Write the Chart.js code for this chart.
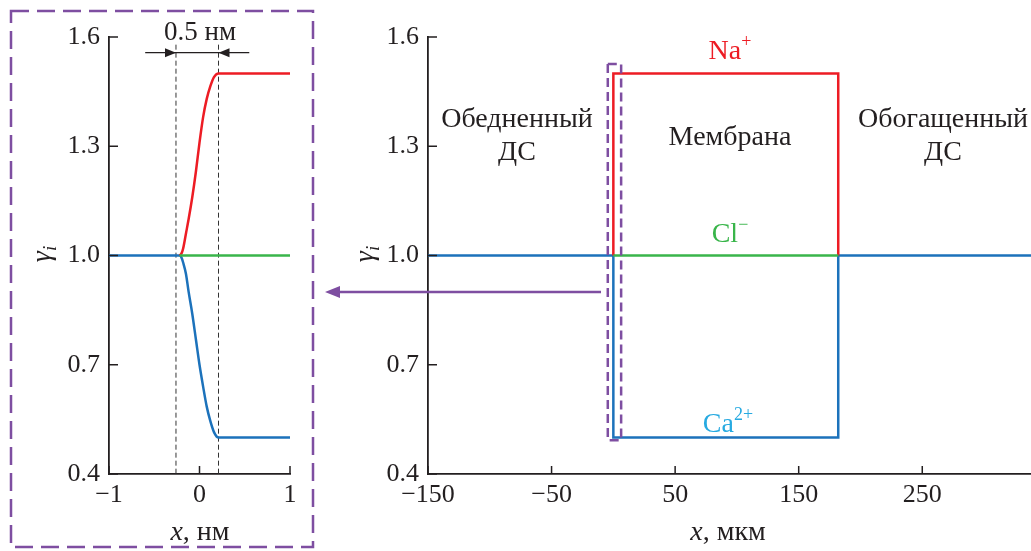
<!DOCTYPE html>
<html>
<head>
<meta charset="utf-8">
<script src="https://cdn.jsdelivr.net/npm/chart.js@4.4.1/dist/chart.umd.min.js"></script>
<style>
  html, body { margin: 0; padding: 0; background: #fff; }
  #wrap { position: relative; width: 1031px; height: 551px; overflow: hidden; background: #fff;
          font-family: "Liberation Serif", "DejaVu Serif", serif; color: #231f20; }
  canvas { position: absolute; top: 0; }
  #c1 { left: 0; }
  #c2 { left: 330px; }
  .t { position: absolute; transform: translate(-50%, -50%); white-space: nowrap; font-size: 28px; line-height: 1; text-align: center; }
  .t sup { font-size: 18px; vertical-align: 0; position: relative; top: -0.65em; }
  .rot { transform: translate(-50%, -50%) rotate(-90deg); }
  svg { position: absolute; left: 0; top: 0; pointer-events: none; }
</style>
</head>
<body>
<div id="wrap">
  <canvas id="c1" width="330" height="551"></canvas>
  <canvas id="c2" width="701" height="551"></canvas>
  <svg width="1031" height="551">
    <rect x="11" y="11" width="302" height="536" fill="none" stroke="#7e4ea1" stroke-width="2.5" stroke-dasharray="18 8"/>
    <line x1="601" y1="292" x2="336" y2="292" stroke="#7e4ea1" stroke-width="2.5"/>
    <polygon points="325,292 340,286 340,298" fill="#7e4ea1"/>
  </svg>
  <div class="t" style="left:200px;top:31px;font-size:27px;">0.5 нм</div>
  <div class="t rot" style="left:43px;top:254px;"><i>γ<sub style="font-size:19px">i</sub></i></div>
  <div class="t rot" style="left:366px;top:254px;"><i>γ<sub style="font-size:19px">i</sub></i></div>
  <div class="t" style="left:200px;top:531px;"><i>x</i>, нм</div>
  <div class="t" style="left:728px;top:531px;"><i>x</i>, мкм</div>
  <div class="t" style="left:730px;top:50px;color:#ed1c24;">Na<sup>+</sup></div>
  <div class="t" style="left:730px;top:136px;">Мембрана</div>
  <div class="t" style="left:730px;top:233px;color:#39b54a;">Cl<sup>−</sup></div>
  <div class="t" style="left:728px;top:423px;color:#27aae1;">Ca<sup>2+</sup></div>
  <div class="t" style="left:517px;top:118px;">Обедненный</div>
  <div class="t" style="left:517px;top:151px;">ДС</div>
  <div class="t" style="left:943px;top:118px;">Обогащенный</div>
  <div class="t" style="left:943px;top:151px;">ДС</div>
</div>
<script>
// ---------- data: left panel (x in nm) ----------
const xNmRed   = [-0.22, -0.2, -0.18, -0.15, -0.12, -0.08, -0.04, 0, 0.04, 0.08, 0.12, 0.16, 0.21, 1];
const naNm     = [1.0, 1.005, 1.02, 1.06, 1.10, 1.16, 1.23, 1.31, 1.38, 1.43, 1.465, 1.49, 1.5, 1.5];
const xNmBlue  = [-1, -0.22, -0.2, -0.18, -0.15, -0.12, -0.08, -0.04, 0, 0.04, 0.08, 0.12, 0.16, 0.21, 1];
const caNm     = [1.0, 1.0, 0.995, 0.98, 0.95, 0.90, 0.84, 0.77, 0.70, 0.64, 0.585, 0.545, 0.515, 0.5, 0.5];
const xNmGreen = [-0.22, 1];
const clNm     = [1.0, 1.0];
const xTicksNm = [-1, 0, 1];
const markerNm = [-0.26, 0.21];          // dashed boundaries of the 0.5 nm zone

// ---------- data: right panel (x in µm) ----------
const xUmRed   = [0, 0, 182, 182];
const naUm     = [1.0, 1.5, 1.5, 1.0];
const xUmBlue  = [-150, 0, 0, 182, 182, 338];
const caUm     = [1.0, 1.0, 0.5, 0.5, 1.0, 1.0];
const xUmGreen = [0, 182];
const clUm     = [1.0, 1.0];
const xTicksUm = [-150, -50, 50, 150, 250];
const yTicks   = [0.4, 0.7, 1.0, 1.3, 1.6];
const zoomBox  = { x0: -4.5, x1: 6.3, y0: 0.493, y1: 1.526 };

const RED = '#ed1c24', GREEN = '#39b54a', BLUE = '#1c72bb', INK = '#231f20', PURPLE = '#7e4ea1';
const FONT = { family: '"Liberation Serif", serif', size: 26 };

const pts = (xs, ys) => xs.map((x, i) => ({ x, y: ys[i] }));
const fmtX = v => (v < 0 ? '\u2212' + Math.abs(v) : String(v));

function ds(xs, ys, color, smooth) {
  return { data: pts(xs, ys), borderColor: color, borderWidth: 2.5, pointRadius: 0, fill: false,
           tension: 0, cubicInterpolationMode: smooth ? 'monotone' : 'default' };
}

// inward tick marks drawn from the library's own scales
const innerTicks = {
  id: 'innerTicks',
  afterDraw(chart) {
    const { ctx, chartArea: a, scales: { x, y } } = chart;
    ctx.save();
    ctx.strokeStyle = INK; ctx.lineWidth = 1.5;
    ctx.beginPath();
    x.ticks.forEach(t => { const px = x.getPixelForValue(t.value); ctx.moveTo(px, a.bottom); ctx.lineTo(px, a.bottom - 8); });
    y.ticks.forEach(t => { const py = y.getPixelForValue(t.value); ctx.moveTo(a.left, py); ctx.lineTo(a.left + 9, py); });
    ctx.stroke();
    ctx.restore();
  }
};

const measure = {
  id: 'measure',
  beforeDatasetsDraw(chart) {
    const { ctx, chartArea: a, scales: { x, y } } = chart;
    const xs = markerNm.map(v => x.getPixelForValue(v));
    const py = y.getPixelForValue(1.557);
    ctx.save();
    ctx.strokeStyle = '#333'; ctx.lineWidth = 1; ctx.setLineDash([5, 3]);
    ctx.beginPath();
    xs.forEach(px => { ctx.moveTo(px, py - 8); ctx.lineTo(px, a.bottom); });
    ctx.stroke();
    ctx.setLineDash([]);
    const xl = x.getPixelForValue(-0.6), xr = x.getPixelForValue(0.55);
    ctx.strokeStyle = INK; ctx.lineWidth = 1.2;
    ctx.beginPath(); ctx.moveTo(xl, py); ctx.lineTo(xr, py); ctx.stroke();
    ctx.fillStyle = INK;
    ctx.beginPath(); ctx.moveTo(xs[0], py); ctx.lineTo(xs[0] - 11, py - 4.5); ctx.lineTo(xs[0] - 11, py + 4.5); ctx.closePath(); ctx.fill();
    ctx.beginPath(); ctx.moveTo(xs[1], py); ctx.lineTo(xs[1] + 11, py - 4.5); ctx.lineTo(xs[1] + 11, py + 4.5); ctx.closePath(); ctx.fill();
    ctx.restore();
  }
};

const zoomRect = {
  id: 'zoomRect',
  afterDatasetsDraw(chart) {
    const { ctx, scales: { x, y } } = chart;
    const l = x.getPixelForValue(zoomBox.x0), r = x.getPixelForValue(zoomBox.x1);
    const t = y.getPixelForValue(zoomBox.y1), b = y.getPixelForValue(zoomBox.y0);
    ctx.save();
    ctx.strokeStyle = PURPLE; ctx.lineWidth = 2.5; ctx.setLineDash([9, 5]);
    ctx.strokeRect(l, t, r - l, b - t);
    ctx.restore();
  }
};

function scalesCfg(xmin, xmax, xt, yWidth) {
  return {
    x: { type: 'linear', min: xmin, max: xmax,
         grid: { display: false, drawTicks: false },
         border: { display: true, color: INK, width: 1.8 },
         ticks: { font: FONT, color: INK, padding: 6, maxRotation: 0, autoSkip: false, callback: fmtX },
         afterBuildTicks: s => { s.ticks = xt.map(v => ({ value: v })); },
         afterFit: s => { s.height = 77; } },
    y: { type: 'linear', min: 0.4, max: 1.6,
         grid: { display: false, drawTicks: false },
         border: { display: true, color: INK, width: 1.8 },
         ticks: { font: FONT, color: INK, padding: 9, autoSkip: false, callback: v => Number(v).toFixed(1) },
         afterBuildTicks: s => { s.ticks = yTicks.map(v => ({ value: v })); },
         afterFit: s => { s.width = yWidth; } }
  };
}

const common = { responsive: false, animation: false, events: [],
                 plugins: { legend: { display: false }, tooltip: { enabled: false } } };

new Chart(document.getElementById('c1'), {
  type: 'line',
  data: { datasets: [ ds(xNmGreen, clNm, GREEN, false), ds(xNmRed, naNm, RED, true), ds(xNmBlue, caNm, BLUE, true) ] },
  options: Object.assign({}, common, {
    layout: { padding: { left: 0, top: 37, right: 40, bottom: 0 } },
    scales: scalesCfg(-1, 1, xTicksNm, 109)
  }),
  plugins: [innerTicks, measure]
});

new Chart(document.getElementById('c2'), {
  type: 'line',
  data: { datasets: [ ds(xUmGreen, clUm, GREEN, false), ds(xUmRed, naUm, RED, false), ds(xUmBlue, caUm, BLUE, false) ] },
  options: Object.assign({}, common, {
    layout: { padding: { left: 0, top: 37, right: 0, bottom: 0 } },
    scales: scalesCfg(-150, 338, xTicksUm, 98)
  }),
  plugins: [innerTicks, zoomRect]
});
</script>
</body>
</html>
